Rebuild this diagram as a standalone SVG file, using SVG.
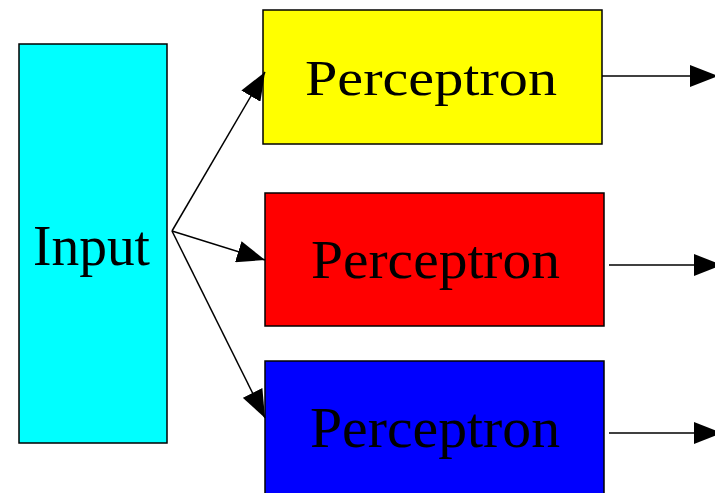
<svg xmlns="http://www.w3.org/2000/svg" width="715" height="493" viewBox="0 0 715 493">
<defs>
<style>
.box{stroke:#000;stroke-width:1.5}
.lbl{font-family:"Liberation Serif","Times New Roman",serif;fill:#000}
.cn{stroke:#000;stroke-width:1.5;fill:none;marker-end:url(#ah)}
</style>
<marker id="ah" viewBox="0 0 28 22" refX="28" refY="11" markerWidth="28" markerHeight="22" markerUnits="userSpaceOnUse" orient="auto">
<path d="M0,0 L28,11 L0,22 Z" fill="#000"/>
</marker>
</defs>
<rect width="715" height="493" fill="#fff"/>
<g id="input">
<rect class="box" x="19" y="44" width="148" height="399" fill="#00ffff"/>
<text class="lbl" x="33" y="265" font-size="57" textLength="117" lengthAdjust="spacingAndGlyphs">Input</text>
</g>
<g id="p1">
<rect class="box" x="263" y="10" width="339" height="134" fill="#ffff00"/>
<text class="lbl" x="305" y="95" font-size="51" textLength="252" lengthAdjust="spacingAndGlyphs">Perceptron</text>
</g>
<g id="p2">
<rect class="box" x="265" y="193" width="339" height="133" fill="#ff0000"/>
<text class="lbl" x="311" y="278" font-size="55" textLength="249" lengthAdjust="spacingAndGlyphs">Perceptron</text>
</g>
<g id="p3">
<rect class="box" x="265" y="361" width="339" height="160" fill="#0000ff"/>
<text class="lbl" x="310" y="447" font-size="58" textLength="250" lengthAdjust="spacingAndGlyphs">Perceptron</text>
</g>
<g id="connectors">
<path class="cn" d="M172,231 L265,72"/>
<path class="cn" d="M172,231 L265,260"/>
<path class="cn" d="M172,231 L265,418"/>
<path class="cn" d="M602,76 L718,76"/>
<path class="cn" d="M609,265 L722,265"/>
<path class="cn" d="M609,433 L722,433"/>
</g>
</svg>
